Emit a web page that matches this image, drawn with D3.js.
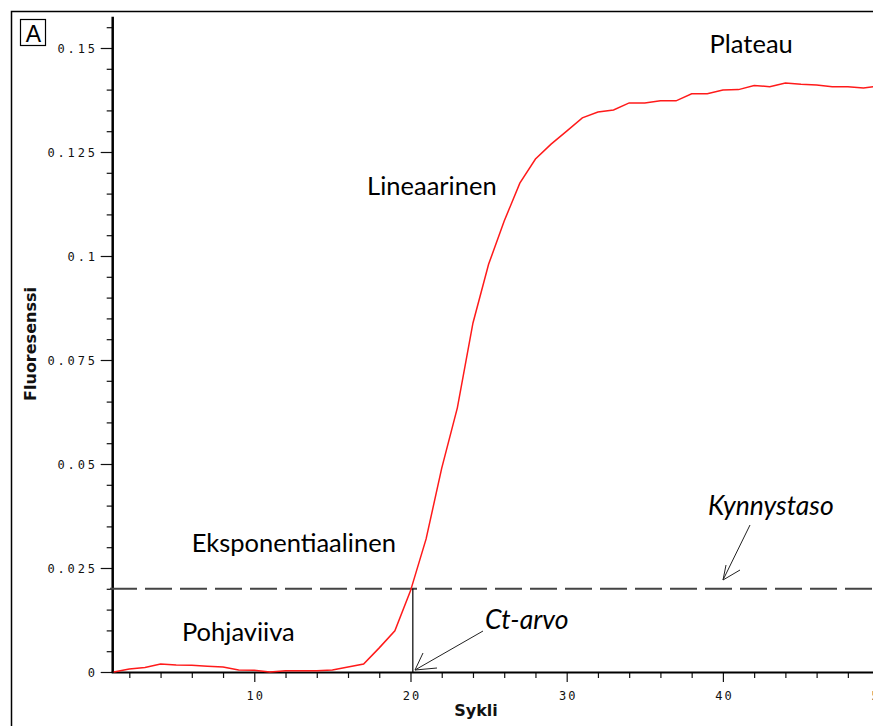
<!DOCTYPE html>
<html>
<head>
<meta charset="utf-8">
<script src="https://cdn.jsdelivr.net/npm/d3@7"></script>
<style>
  html, body { margin: 0; padding: 0; background: #fff; }
  svg { display: block; }
</style>
</head>
<body>
<svg id="chart" width="873" height="726"></svg>
<script>
// ---------- data ----------
const cycles = d3.range(1, 51);
const fluorescence = [
  0.0000, 0.0007, 0.0011, 0.0019, 0.0017, 0.0016, 0.0014, 0.0012, 0.0005, 0.0004,
  0.0000, 0.0003, 0.0003, 0.0003, 0.0005, 0.0012, 0.0019, 0.0058, 0.0099, 0.0195,
  0.0320, 0.0490, 0.0635, 0.0839, 0.0980, 0.1084, 0.1175, 0.1233, 0.1269, 0.1300,
  0.1332, 0.1346, 0.1351, 0.1368, 0.1368, 0.1373, 0.1373, 0.1390, 0.1390, 0.1399,
  0.1400, 0.1410, 0.1407, 0.1416, 0.1413, 0.1411, 0.1407, 0.1407, 0.1404, 0.1409
];
const yMajorTicks = [0, 0.025, 0.05, 0.075, 0.1, 0.125, 0.15];
const yTickLabels = ["0", "0.025", "0.05", "0.075", "0.1", "0.125", "0.15"];
const xMajorTicks = [10, 20, 30, 40, 50];
const xTickLabels = ["10", "20", "30", "40", "50"];
const threshold = 0.02;
const ctValue = 20.15;
const phaseLabels = ["Plateau", "Lineaarinen", "Eksponentiaalinen", "Pohjaviiva"];
const phaseX = [39.15, 17.22, 5.99, 5.37];
const phaseY = [0.1488, 0.1147, 0.0288, 0.0075];
const xTitle = "Sykli";
const yTitle = "Fluoresenssi";
const panelLabel = "A";

// ---------- layout ----------
const svg = d3.select("#chart");
const x = d3.scaleLinear().domain([1, 50]).range([113.7, 879.1]);
const y = d3.scaleLinear().domain([0, 0.15]).range([672, 48]);

svg.append("rect").attr("width", 873).attr("height", 726).attr("fill", "#fff");

// outer frame
svg.append("rect")
  .attr("x", 11.5).attr("y", 11.5).attr("width", 900).attr("height", 800)
  .attr("fill", "none").attr("stroke", "#000").attr("stroke-width", 1.5);

// panel label box
svg.append("rect")
  .attr("x", 20.5).attr("y", 19.5).attr("width", 25).attr("height", 26)
  .attr("fill", "none").attr("stroke", "#000").attr("stroke-width", 1.2);
svg.append("text")
  .attr("x", 33.5).attr("y", 42)
  .attr("text-anchor", "middle")
  .attr("font-family", "Liberation Sans, Arial, sans-serif")
  .attr("font-size", 23).attr("fill", "#000")
  .text(panelLabel);

// ---------- Y axis ----------
const yMinor = d3.range(0, 0.1551, 0.005).filter(v => !yMajorTicks.some(t => Math.abs(t - v) < 1e-6));
const yAxisG = svg.append("g").attr("transform", `translate(${x(1) - 1},0)`);
yAxisG.call(d3.axisLeft(y).tickValues(yMinor).tickSize(6).tickFormat(""));
yAxisG.select(".domain").remove();
const yAxisMajor = svg.append("g").attr("transform", `translate(${x(1) - 1},0)`);
yAxisMajor.call(d3.axisLeft(y).tickValues(yMajorTicks).tickSize(12).tickPadding(3)
  .tickFormat((d, i) => yTickLabels[i]));
yAxisMajor.select(".domain").remove();
[yAxisG, yAxisMajor].forEach(g => g.selectAll(".tick line").attr("stroke", "#111").attr("stroke-width", 1.2));
yAxisMajor.selectAll(".tick text")
  .attr("font-family", "DejaVu Sans Mono, monospace")
  .attr("font-size", 12).attr("fill", "#111")
  .attr("letter-spacing", "2.8px")
  .attr("dy", "0.36em");
// thick axis line
svg.append("line")
  .attr("x1", x(1) - 1).attr("x2", x(1) - 1)
  .attr("y1", y(0.1575)).attr("y2", y(0) + 1)
  .attr("stroke", "#000").attr("stroke-width", 2.5);

// ---------- X axis ----------
const xMinor = d3.range(2, 50, 2).filter(v => v % 10 !== 0);
const xAxisMinor = svg.append("g").attr("transform", `translate(0,${y(0)})`);
xAxisMinor.call(d3.axisBottom(x).tickValues(xMinor).tickSize(6).tickFormat(""));
xAxisMinor.select(".domain").remove();
const xAxisMajor = svg.append("g").attr("transform", `translate(0,${y(0)})`);
xAxisMajor.call(d3.axisBottom(x).tickValues(xMajorTicks).tickSize(10).tickPadding(9)
  .tickFormat((d, i) => xTickLabels[i]));
xAxisMajor.select(".domain").remove();
[xAxisMinor, xAxisMajor].forEach(g => g.selectAll(".tick line").attr("stroke", "#111").attr("stroke-width", 1.2));
xAxisMajor.selectAll(".tick text")
  .attr("font-family", "DejaVu Sans Mono, monospace")
  .attr("font-size", 12).attr("fill", "#111")
  .attr("letter-spacing", "2px")
  .attr("dx", "1px");
svg.append("line")
  .attr("x1", x(1) - 2).attr("x2", 873)
  .attr("y1", y(0) + 0.5).attr("y2", y(0) + 0.5)
  .attr("stroke", "#000").attr("stroke-width", 2);

// axis titles
svg.append("text")
  .attr("x", 476).attr("y", 716)
  .attr("text-anchor", "middle")
  .attr("font-family", "DejaVu Sans, sans-serif")
  .attr("font-weight", "bold").attr("font-size", 16).attr("fill", "#111")
  .text(xTitle);
svg.append("text")
  .attr("transform", "translate(36,344) rotate(-90)")
  .attr("text-anchor", "middle")
  .attr("font-family", "DejaVu Sans, sans-serif")
  .attr("font-weight", "bold").attr("font-size", 16).attr("fill", "#111")
  .text(yTitle);

// ---------- threshold ----------
svg.append("line")
  .attr("x1", 110).attr("x2", 873)
  .attr("y1", y(threshold)).attr("y2", y(threshold))
  .attr("stroke", "#444").attr("stroke-width", 2)
  .attr("stroke-dasharray", "27,8");

// Ct vertical line
svg.append("line")
  .attr("x1", x(ctValue)).attr("x2", x(ctValue))
  .attr("y1", y(threshold)).attr("y2", y(0))
  .attr("stroke", "#000").attr("stroke-width", 1.2);

// ---------- curve ----------
const line = d3.line().x((d, i) => x(cycles[i])).y(d => y(d));
svg.append("path")
  .datum(fluorescence)
  .attr("d", line)
  .attr("fill", "none")
  .attr("stroke", "#ff1a1a")
  .attr("stroke-width", 1.5);

// ---------- annotations ----------
svg.selectAll("text.phase")
  .data(phaseLabels)
  .join("text")
  .attr("class", "phase")
  .attr("x", (d, i) => x(phaseX[i]))
  .attr("y", (d, i) => y(phaseY[i]))
  .attr("font-family", "Lato, Carlito, sans-serif")
  .attr("font-size", 25.5).attr("fill", "#000")
  .text(d => d);

function arrow(x1, y1, x2, y2, b1, b2) {
  const g = svg.append("g").attr("stroke", "#222").attr("stroke-width", 1).attr("fill", "none");
  g.append("line").attr("x1", x1).attr("y1", y1).attr("x2", x2).attr("y2", y2);
  g.append("line").attr("x1", x2).attr("y1", y2).attr("x2", b1[0]).attr("y2", b1[1]);
  g.append("line").attr("x1", x2).attr("y1", y2).attr("x2", b2[0]).attr("y2", b2[1]);
}

// Kynnystaso
svg.append("text")
  .attr("x", 708).attr("y", 515)
  .attr("font-family", "Lato, Carlito, sans-serif")
  .attr("font-style", "italic")
  .attr("font-size", 26.5).attr("fill", "#000")
  .text("Kynnystaso");
arrow(750, 525, 723, 580, [740, 570], [726, 565]);

// Ct-arvo
svg.append("text")
  .attr("x", 485).attr("y", 629)
  .attr("font-family", "Lato, Carlito, sans-serif")
  .attr("font-style", "italic")
  .attr("font-size", 26.5).attr("fill", "#000")
  .text("Ct-arvo");
arrow(483, 631, 415, 670, [423, 653], [437, 668]);
</script>
</body>
</html>
